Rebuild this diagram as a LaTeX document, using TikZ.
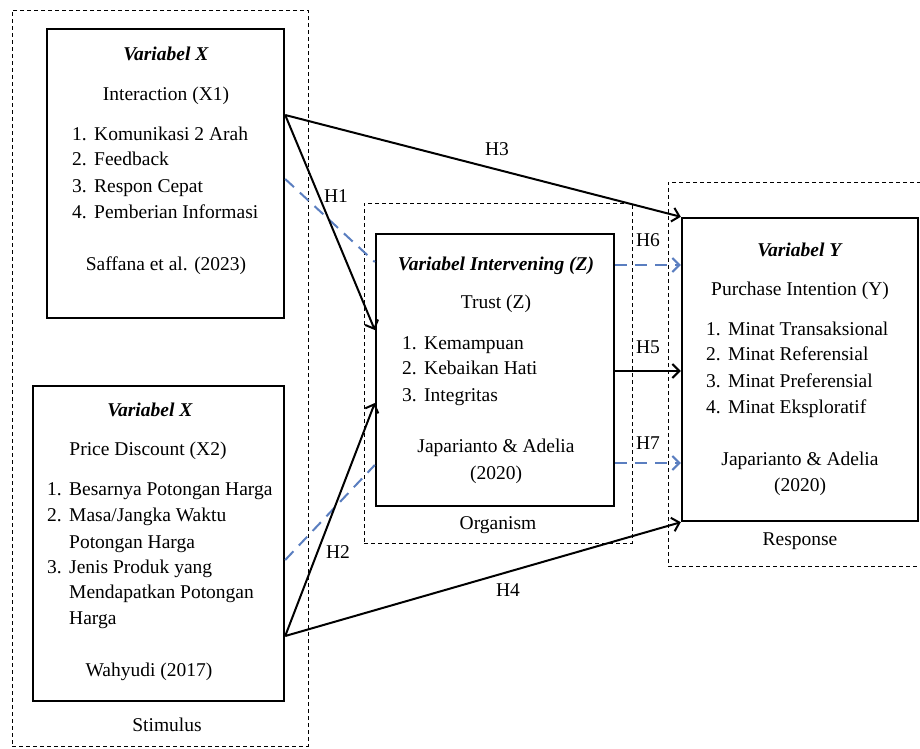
\documentclass[tikz,border=0pt]{standalone}
\usepackage{fontspec}
\setmainfont{Liberation Serif}
\usetikzlibrary{arrows.meta,calc}
\newcommand\dfont{\fontsize{19.5}{26}\selectfont}
\newcommand\itm[1]{\makebox[22pt][l]{#1}}
\definecolor{medblue}{HTML}{5A7EC0}
\begin{document}
\begin{tikzpicture}[x=1pt,y=-1pt,
  box/.style={draw, line width=2.4pt, inner sep=0pt},
  grp/.style={draw, line width=1pt, dash pattern=on 4pt off 3pt, inner sep=0pt},
  arr/.style={line width=2pt, -{Straight Barb[length=7pt,width=14pt,line width=2pt]}},
  med/.style={draw=medblue, line width=2pt, dash pattern=on 12pt off 8pt},
  medarr/.style={med, -{Straight Barb[length=7pt,width=14pt,line width=2pt]}},
  t/.style={inner sep=0pt, anchor=base, font=\dfont},
  ts/.style={inner sep=0pt, anchor=base west, font=\dfont}]
\useasboundingbox (0,0) rectangle (920,748);
\fill[white] (0,0) rectangle (920,748);

% group boxes
\node[grp, minimum width=296pt, minimum height=736pt] (stim) at (160,378) {};
\node[grp, minimum width=268pt, minimum height=340pt] (org) at (498,373) {};
\coordinate (r1) at (921,182);
\coordinate (r2) at (668,182);
\coordinate (r3) at (668,566);
\coordinate (r4) at (921,566);
\draw[line width=1pt, dash pattern=on 4pt off 3pt] (r1) -- (r2) -- (r3) -- (r4);

% main boxes
\node[box, minimum width=237pt, minimum height=289pt] (x1) at (165.5,173.5) {};
\node[box, minimum width=251pt, minimum height=315pt] (x2) at (158.5,543.5) {};
\node[box, minimum width=238pt, minimum height=272pt] (z) at (495,370) {};
\node[box, minimum width=236pt, minimum height=303pt] (y) at (800,369.5) {};

% X1 texts
\node[t] (x1a) at (166,60) {\textbf{\textit{Variabel X}}};
\node[t] (x1b) at (166,100) {Interaction (X1)};
\node[ts] (x1c) at (72,140) {\itm{1.}Komunikasi 2 Arah};
\node[ts] (x1d) at (72,165.5) {\itm{2.}Feedback};
\node[ts] (x1e) at (72,192) {\itm{3.}Respon Cepat};
\node[ts] (x1f) at (72,218) {\itm{4.}Pemberian Informasi};
\node[t] (x1g) at (166,270) {Saffana et al. (2023)};

% X2 texts
\node[t] (x2a) at (150,416) {\textbf{\textit{Variabel X}}};
\node[t] (x2b) at (148,455) {Price Discount (X2)};
\node[ts] (x2c) at (47,495) {\itm{1.}Besarnya Potongan Harga};
\node[ts] (x2d) at (47,521) {\itm{2.}Masa/Jangka Waktu};
\node[ts] (x2e) at (69,548) {Potongan Harga};
\node[ts] (x2f) at (47,573) {\itm{3.}Jenis Produk yang};
\node[ts] (x2g) at (69,598) {Mendapatkan Potongan};
\node[ts] (x2h) at (69,624) {Harga};
\node[t] (x2i) at (149,676) {Wahyudi (2017)};
\node[t] (stimlab) at (167,731) {Stimulus};

% Z texts
\node[t] (za) at (496,270) {\textbf{\textit{Variabel Intervening (Z)}}};
\node[t] (zb) at (496,308) {Trust (Z)};
\node[ts] (zc) at (402,349) {\itm{1.}Kemampuan};
\node[ts] (zd) at (402,374) {\itm{2.}Kebaikan Hati};
\node[ts] (ze) at (402,401) {\itm{3.}Integritas};
\node[t] (zf) at (496,452) {Japarianto \& Adelia};
\node[t] (zg) at (496,479) {(2020)};
\node[t] (orglab) at (498,529) {Organism};

% Y texts
\node[t] (ya) at (800,256) {\textbf{\textit{Variabel Y}}};
\node[t] (yb) at (800,295) {Purchase Intention (Y)};
\node[ts] (yc) at (706,335) {\itm{1.}Minat Transaksional};
\node[ts] (yd) at (706,360) {\itm{2.}Minat Referensial};
\node[ts] (ye) at (706,387) {\itm{3.}Minat Preferensial};
\node[ts] (yf) at (706,413) {\itm{4.}Minat Eksploratif};
\node[t] (yg) at (800,465) {Japarianto \& Adelia};
\node[t] (yh) at (800,491) {(2020)};
\node[t] (resplab) at (800,545) {Response};

% connectors
\draw[med] (x1.east |- 0,179) -- (z.west |- 0,262);
\draw[med] (x2.east |- 0,560) -- (z.west |- 0,465);
\draw[arr] (x1.east |- 0,115) -- (y.north west);
\draw[arr] (x1.east |- 0,115) -- (z.west |- 0,330);
\draw[arr] (x2.east |- 0,636) -- (z.west |- 0,403);
\draw[arr] (x2.east |- 0,636) -- (y.south west);
\draw[arr] (z.east |- 0,371) -- (y.west |- 0,371);
\draw[medarr] (z.east |- 0,265) -- (y.west |- 0,265);
\draw[medarr] (z.east |- 0,463) -- (y.west |- 0,463);

% hypothesis labels
\node[t] (h3) at (497,155) {H3};
\node[t] (h1) at (336,202) {H1};
\node[t] (h2) at (338,558) {H2};
\node[t] (h4) at (508,596) {H4};
\node[t] (h6) at (648,246) {H6};
\node[t] (h5) at (648,353) {H5};
\node[t] (h7) at (648,449) {H7};
\end{tikzpicture}
\end{document}
